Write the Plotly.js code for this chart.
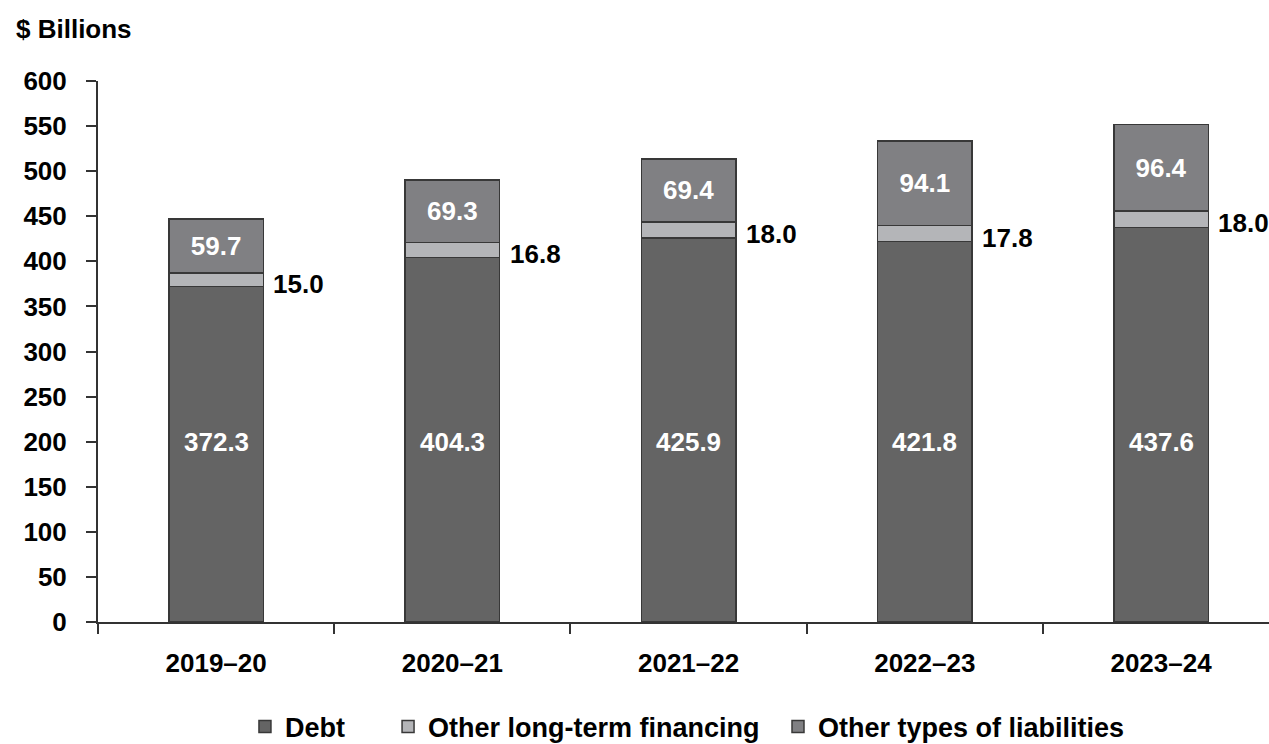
<!DOCTYPE html>
<html>
<head>
<meta charset="utf-8">
<script src="https://cdn.plot.ly/plotly-3.0.1.min.js"></script>
<style>
  html, body { margin: 0; padding: 0; background: #fff; }
  #chart { width: 1269px; height: 744px; }
</style>
</head>
<body>
<div id="chart"></div>
<script>
// Fiscal years and liability components, $ billions
const years = ['2019–20', '2020–21', '2021–22', '2022–23', '2023–24'];
const debt = [372.3, 404.3, 425.9, 421.8, 437.6];
const otherLongTerm = [15.0, 16.8, 18.0, 17.8, 18.0];
const otherLiabilities = [59.7, 69.3, 69.4, 94.1, 96.4];
const yTicks = [0, 50, 100, 150, 200, 250, 300, 350, 400, 450, 500, 550, 600];

const FONT = 'Liberation Sans Narrow, Arial Narrow, Liberation Sans, Arial, sans-serif';
const SIZE = 26;
const outline = { color: '#383838', width: 1.5 };
const fmt = v => v.toFixed(1);

const traces = [
  {
    type: 'bar', name: 'Debt', x: years, y: debt,
    marker: { color: '#646464', line: outline },
    hoverinfo: 'skip', legend: 'legend'
  },
  {
    type: 'bar', name: 'Other long-term financing', x: years, y: otherLongTerm,
    marker: { color: '#b4b5b8', line: outline },
    hoverinfo: 'skip', legend: 'legend2'
  },
  {
    type: 'bar', name: 'Other types of liabilities', x: years, y: otherLiabilities,
    marker: { color: '#808083', line: outline },
    text: otherLiabilities.map(fmt), textposition: 'inside',
    insidetextanchor: 'middle', textangle: 0,
    textfont: { family: FONT, size: SIZE, color: '#ffffff', weight: 'bold' },
    hoverinfo: 'skip', legend: 'legend3'
  }
];

const annotations = [];
years.forEach((yr, i) => {
  // debt value printed in the lower part of each bar
  annotations.push({
    x: i, y: 200, xref: 'x', yref: 'y', text: fmt(debt[i]), showarrow: false,
    font: { family: FONT, size: SIZE, color: '#ffffff', weight: 'bold' }
  });
  // other long-term financing value beside its thin segment
  annotations.push({
    x: i + 0.2, y: debt[i] + otherLongTerm[i] / 2, xref: 'x', yref: 'y',
    text: fmt(otherLongTerm[i]), showarrow: false, xanchor: 'left', yanchor: 'middle',
    xshift: 8, yshift: -4,
    font: { family: FONT, size: SIZE, color: '#000000', weight: 'bold' }
  });
});

const legendFont = { family: FONT, size: 27, color: '#000000', weight: 'bold' };
const legendBase = { orientation: 'h', yanchor: 'middle', y: -0.194, xanchor: 'left', font: legendFont, bgcolor: 'rgba(0,0,0,0)' };

const axisCommon = {
  showline: true, linecolor: '#333333', linewidth: 2,
  ticks: 'outside', ticklen: 10, tickwidth: 2, tickcolor: '#333333',
  tickfont: { family: FONT, size: SIZE, color: '#000000', weight: 'bold' },
  showgrid: false, zeroline: false, automargin: false
};

const layout = {
  width: 1269, height: 744,
  margin: { l: 98, r: 0, t: 81, b: 122, autoexpand: false },
  paper_bgcolor: '#ffffff', plot_bgcolor: '#ffffff',
  barmode: 'stack', bargap: 0.6,
  font: { family: FONT, color: '#000000', weight: 'bold' },
  xaxis: Object.assign({}, axisCommon, {
    type: 'category', range: [-0.5, 4.457],
    tickson: 'boundaries', ticklabelstandoff: 17
  }),
  yaxis: Object.assign({}, axisCommon, {
    range: [0, 600], tickvals: yTicks, ticktext: yTicks.map(String),
    ticklabelstandoff: 14
  }),
  showlegend: true,
  legend: Object.assign({}, legendBase, { x: 0.1255 }),
  legend2: Object.assign({}, legendBase, { x: 0.2477 }),
  legend3: Object.assign({}, legendBase, { x: 0.5807 }),
  annotations: annotations.concat([{
    xref: 'paper', yref: 'paper', x: -0.072, y: 1.065, xanchor: 'left', yanchor: 'bottom',
    text: '$ Billions', showarrow: false,
    font: { family: FONT, size: SIZE, color: '#000000', weight: 'bold' }
  }])
};

Plotly.newPlot('chart', traces, layout, { displayModeBar: false, staticPlot: true });
</script>
</body>
</html>
